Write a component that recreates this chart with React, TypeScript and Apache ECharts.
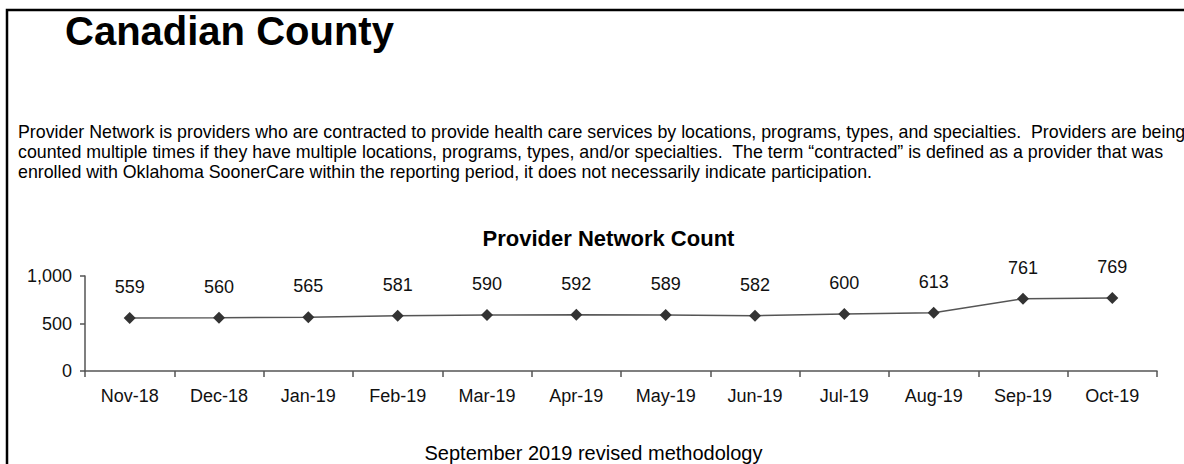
import React, { useEffect, useRef } from "react";
import * as echarts from "echarts";

const categories = [
  "Nov-18", "Dec-18", "Jan-19", "Feb-19", "Mar-19", "Apr-19",
  "May-19", "Jun-19", "Jul-19", "Aug-19", "Sep-19", "Oct-19",
];
const providerCounts = [559, 560, 565, 581, 590, 592, 589, 582, 600, 613, 761, 769];
const yTicks = { min: 0, max: 1000, interval: 500 };

const pageTitle = "Canadian County";
const paragraphLines = [
  "Provider Network is providers who are contracted to provide health care services by locations, programs, types, and specialties.  Providers are being",
  "counted multiple times if they have multiple locations, programs, types, and/or specialties.  The term \u201ccontracted\u201d is defined as a provider that was",
  "enrolled with Oklahoma SoonerCare within the reporting period, it does not necessarily indicate participation.",
];
const chartTitle = "Provider Network Count";
const footNote = "September 2019 revised methodology";

const FONT = "'Liberation Sans', Arial, Helvetica, sans-serif";

export default function App() {
  const ref = useRef<HTMLDivElement>(null);

  useEffect(() => {
    document.body.style.margin = "0";
    if (!ref.current) return;
    const chart = echarts.init(ref.current, undefined, { renderer: "svg" });
    const lineYs = [131.5, 151.5, 172];
    chart.setOption({
      animation: false,
      backgroundColor: "#ffffff",
      textStyle: { fontFamily: FONT },
      grid: { left: 85, right: 27, top: 276, height: 95, containLabel: false },
      xAxis: {
        type: "category",
        data: categories,
        boundaryGap: true,
        axisLine: { lineStyle: { color: "#555", width: 1.5 } },
        axisTick: { show: true, length: 6, lineStyle: { color: "#555", width: 1.5 } },
        axisLabel: { interval: 0, margin: 16, fontFamily: FONT, fontSize: 18, color: "#111" },
        splitLine: { show: false },
      },
      yAxis: {
        type: "value",
        min: yTicks.min,
        max: yTicks.max,
        interval: yTicks.interval,
        axisLine: { show: true, lineStyle: { color: "#555", width: 1.5 } },
        axisTick: { show: true, length: 5, lineStyle: { color: "#555", width: 1.5 } },
        axisLabel: {
          margin: 13,
          fontFamily: FONT,
          fontSize: 18,
          color: "#111",
          formatter: (v: number) => v.toLocaleString("en-US"),
        },
        splitLine: { show: false },
      },
      series: [
        {
          type: "line",
          data: providerCounts,
          symbol: "diamond",
          symbolSize: 12,
          itemStyle: { color: "#333" },
          lineStyle: { color: "#555", width: 1.5 },
          label: {
            show: true,
            position: "top",
            distance: 16,
            fontFamily: FONT,
            fontSize: 18,
            color: "#111",
          },
        },
      ],
      graphic: [
        {
          type: "polyline",
          shape: { points: [[7, 464], [7, 10], [1184, 10]] },
          style: { stroke: "#000", lineWidth: 2.5, fill: "none" },
        },
        {
          type: "text",
          x: 65,
          y: 31,
          style: {
            text: pageTitle,
            fontFamily: FONT,
            fontSize: 40,
            fontWeight: "bold",
            fill: "#000",
            align: "left",
            verticalAlign: "middle",
          },
        },
        ...paragraphLines.map((t, i) => ({
          type: "text",
          x: 18,
          y: lineYs[i],
          style: {
            text: t,
            fontFamily: FONT,
            fontSize: 17.8,
            fill: "#000",
            align: "left",
            verticalAlign: "middle",
          },
        })),
        {
          type: "text",
          x: 608.5,
          y: 238,
          style: {
            text: chartTitle,
            fontFamily: FONT,
            fontSize: 22,
            fontWeight: "bold",
            fill: "#000",
            align: "center",
            verticalAlign: "middle",
          },
        },
        {
          type: "text",
          x: 593.5,
          y: 453,
          style: {
            text: footNote,
            fontFamily: FONT,
            fontSize: 20,
            fill: "#000",
            align: "center",
            verticalAlign: "middle",
          },
        },
      ],
    });
    return () => chart.dispose();
  }, []);

  return <div ref={ref} style={{ width: 1184, height: 464 }} />;
}
